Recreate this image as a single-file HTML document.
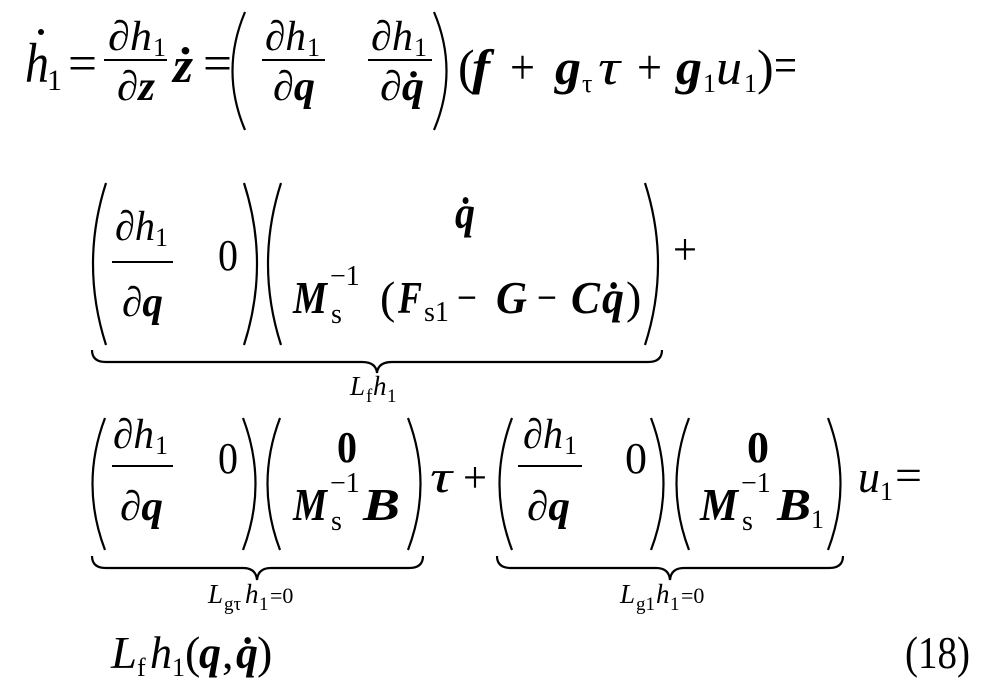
<!DOCTYPE html>
<html><head><meta charset="utf-8"><style>
html,body{margin:0;padding:0;background:#fff;}
svg{display:block}
text{font-family:"Liberation Serif",serif;fill:#000}
.i{font-style:italic}
.b{font-weight:bold;font-style:italic}
.bu{font-weight:bold}
</style></head><body>
<svg width="1001" height="690" viewBox="0 0 1001 690" xmlns="http://www.w3.org/2000/svg">
<g fill="none" stroke="#000" stroke-width="2.2">
<path d="M245 12 Q220 71 245 130"/><path d="M434 12 Q459 71 434 130"/>
<path d="M106 183 Q80 264 106 345"/><path d="M244 183 Q270 264 244 345"/>
<path d="M281 183 Q255 264 281 345"/><path d="M645 183 Q671 264 645 345"/>
<path d="M105 418 Q80 484 105 550"/><path d="M243 418 Q268 484 243 550"/>
<path d="M280 418 Q255 484 280 550"/><path d="M408 418 Q433 484 408 550"/>
<path d="M512 418 Q487 484 512 550"/><path d="M651 418 Q676 484 651 550"/>
<path d="M689 418 Q664 484 689 550"/><path d="M828 418 Q853 484 828 550"/>
<path d="M92 350 Q92 362 106 362 L362 362 Q376 362 377 373 Q378 362 392 362 L648 362 Q662 362 662 350"/>
<path d="M92 556 Q92 568 106 568 L243 568 Q256 568 257 580 Q258 568 271 568 L409 568 Q423 568 423 556"/>
<path d="M497 556 Q497 568 511 568 L656 568 Q669 568 670 580 Q671 568 684 568 L829 568 Q843 568 843 556"/>
</g>
<g stroke="#000" stroke-width="2">
<line x1="104" y1="60" x2="167" y2="60"/>
<line x1="262" y1="60" x2="325" y2="60"/>
<line x1="368" y1="60" x2="432" y2="60"/>
<line x1="112" y1="262" x2="173" y2="262"/>
<line x1="112" y1="466" x2="173" y2="466"/>
<line x1="518" y1="466" x2="582" y2="466"/>
</g>
<circle cx="41" cy="32" r="3" fill="#000"/>
<!-- line 1 -->
<text x="25" y="82" font-size="56" class="i" textLength="24" lengthAdjust="spacingAndGlyphs">h</text>
<text x="47" y="90" font-size="30">1</text>
<text x="68" y="80" font-size="50" textLength="29" lengthAdjust="spacingAndGlyphs">=</text>
<text x="108" y="50" font-size="42" class="i" textLength="44" lengthAdjust="spacingAndGlyphs">∂h</text><text x="153" y="56" font-size="26">1</text>
<text x="117" y="100" font-size="42" textLength="38" lengthAdjust="spacingAndGlyphs"><tspan class="i">∂</tspan><tspan class="b">z</tspan></text>
<text x="173" y="82" font-size="50" class="b" textLength="20" lengthAdjust="spacingAndGlyphs">ż</text>
<text x="203" y="80" font-size="50" textLength="29" lengthAdjust="spacingAndGlyphs">=</text>
<text x="265" y="50" font-size="42" class="i" textLength="41" lengthAdjust="spacingAndGlyphs">∂h</text><text x="307" y="56" font-size="26">1</text>
<text x="273" y="100" font-size="42" textLength="42" lengthAdjust="spacingAndGlyphs"><tspan class="i">∂</tspan><tspan class="b">q</tspan></text>
<text x="371" y="50" font-size="42" class="i" textLength="42" lengthAdjust="spacingAndGlyphs">∂h</text><text x="414" y="56" font-size="26">1</text>
<text x="380" y="100" font-size="42" textLength="44" lengthAdjust="spacingAndGlyphs"><tspan class="i">∂</tspan><tspan class="b">q̇</tspan></text>
<text x="458" y="84" font-size="50">(</text>
<text x="472" y="84" font-size="50" class="b" textLength="18" lengthAdjust="spacingAndGlyphs">f</text>
<text x="510" y="84" font-size="50" textLength="25" lengthAdjust="spacingAndGlyphs">+</text>
<text x="555" y="84" font-size="50" class="b" textLength="26" lengthAdjust="spacingAndGlyphs">g</text>
<text x="582" y="92" font-size="26">τ</text>
<text x="598" y="84" font-size="50" class="i" textLength="22" lengthAdjust="spacingAndGlyphs">τ</text>
<text x="637" y="84" font-size="50" textLength="25" lengthAdjust="spacingAndGlyphs">+</text>
<text x="676" y="84" font-size="50" class="b" textLength="26" lengthAdjust="spacingAndGlyphs">g</text>
<text x="703" y="92" font-size="26">1</text>
<text x="716" y="84" font-size="50" class="i" textLength="26" lengthAdjust="spacingAndGlyphs">u</text>
<text x="744" y="92" font-size="26">1</text>
<text x="757" y="84" font-size="50">)</text>
<text x="774" y="82" font-size="50" textLength="23" lengthAdjust="spacingAndGlyphs">=</text>
<!-- line 2 -->
<text x="115" y="240" font-size="42" class="i" textLength="40" lengthAdjust="spacingAndGlyphs">∂h</text><text x="155" y="246" font-size="26">1</text>
<text x="122" y="316" font-size="42" textLength="41" lengthAdjust="spacingAndGlyphs"><tspan class="i">∂</tspan><tspan class="b">q</tspan></text>
<text x="218" y="270" font-size="44" textLength="20" lengthAdjust="spacingAndGlyphs">0</text>
<text x="455" y="228" font-size="46" class="b" textLength="20" lengthAdjust="spacingAndGlyphs">q̇</text>
<text x="293" y="313" font-size="46" class="b" textLength="34" lengthAdjust="spacingAndGlyphs">M</text>
<text x="330" y="285" font-size="28">−1</text>
<text x="331" y="323" font-size="28">s</text>
<text x="380" y="313" font-size="46">(</text>
<text x="398" y="313" font-size="46" class="b" textLength="24" lengthAdjust="spacingAndGlyphs">F</text>
<text x="424" y="321" font-size="28">s1</text>
<text x="457" y="313" font-size="46" textLength="20" lengthAdjust="spacingAndGlyphs">−</text>
<text x="496" y="313" font-size="46" class="b" textLength="31" lengthAdjust="spacingAndGlyphs">G</text>
<text x="537" y="313" font-size="46" textLength="20" lengthAdjust="spacingAndGlyphs">−</text>
<text x="571" y="313" font-size="46" class="b" textLength="29" lengthAdjust="spacingAndGlyphs">C</text>
<text x="602" y="313" font-size="46" class="b" textLength="22" lengthAdjust="spacingAndGlyphs">q̇</text>
<text x="626" y="313" font-size="46">)</text>
<text x="673" y="264" font-size="44" textLength="24" lengthAdjust="spacingAndGlyphs">+</text>
<text x="350" y="395" font-size="27" class="i">L</text><text x="366" y="402" font-size="19">f</text><text x="373" y="395" font-size="27" class="i">h</text><text x="387" y="402" font-size="19">1</text>
<!-- line 3 -->
<text x="113" y="448" font-size="42" class="i" textLength="41" lengthAdjust="spacingAndGlyphs">∂h</text><text x="155" y="454" font-size="26">1</text>
<text x="120" y="520" font-size="42" textLength="43" lengthAdjust="spacingAndGlyphs"><tspan class="i">∂</tspan><tspan class="b">q</tspan></text>
<text x="218" y="473" font-size="44" textLength="20" lengthAdjust="spacingAndGlyphs">0</text>
<text x="337" y="462" font-size="44" class="bu" textLength="20" lengthAdjust="spacingAndGlyphs">0</text>
<text x="293" y="520" font-size="46" class="b" textLength="34" lengthAdjust="spacingAndGlyphs">M</text>
<text x="330" y="492" font-size="28">−1</text>
<text x="331" y="530" font-size="28">s</text>
<text x="363" y="520" font-size="46" class="b" textLength="37" lengthAdjust="spacingAndGlyphs">B</text>
<text x="430" y="492" font-size="46" class="i" textLength="22" lengthAdjust="spacingAndGlyphs">τ</text>
<text x="463" y="492" font-size="44" textLength="24" lengthAdjust="spacingAndGlyphs">+</text>
<text x="523" y="448" font-size="42" class="i" textLength="40" lengthAdjust="spacingAndGlyphs">∂h</text><text x="564" y="454" font-size="26">1</text>
<text x="527" y="520" font-size="42" textLength="43" lengthAdjust="spacingAndGlyphs"><tspan class="i">∂</tspan><tspan class="b">q</tspan></text>
<text x="625" y="473" font-size="44" textLength="22" lengthAdjust="spacingAndGlyphs">0</text>
<text x="747" y="462" font-size="44" class="bu" textLength="22" lengthAdjust="spacingAndGlyphs">0</text>
<text x="700" y="520" font-size="46" class="b" textLength="38" lengthAdjust="spacingAndGlyphs">M</text>
<text x="741" y="492" font-size="28">−1</text>
<text x="742" y="530" font-size="28">s</text>
<text x="777" y="520" font-size="46" class="b" textLength="34" lengthAdjust="spacingAndGlyphs">B</text>
<text x="811" y="528" font-size="26">1</text>
<text x="858" y="492" font-size="46" class="i" textLength="22" lengthAdjust="spacingAndGlyphs">u</text>
<text x="880" y="500" font-size="26">1</text>
<text x="895" y="490" font-size="44" textLength="27" lengthAdjust="spacingAndGlyphs">=</text>
<text x="208" y="603" font-size="27" class="i">L</text><text x="224" y="610" font-size="19">gτ</text><text x="245" y="603" font-size="27" class="i">h</text><text x="259" y="610" font-size="19">1</text><text x="270" y="603" font-size="22">=0</text>
<text x="620" y="603" font-size="27" class="i">L</text><text x="636" y="610" font-size="19">g1</text><text x="656" y="603" font-size="27" class="i">h</text><text x="670" y="610" font-size="19">1</text><text x="681" y="603" font-size="22">=0</text>
<!-- line 4 -->
<text x="111" y="668" font-size="46" class="i" textLength="26" lengthAdjust="spacingAndGlyphs">L</text>
<text x="137" y="676" font-size="26">f</text>
<text x="150" y="668" font-size="46" class="i" textLength="22" lengthAdjust="spacingAndGlyphs">h</text>
<text x="172" y="676" font-size="26">1</text>
<text x="185" y="668" font-size="46">(</text>
<text x="199" y="668" font-size="46" class="b" textLength="22" lengthAdjust="spacingAndGlyphs">q</text>
<text x="222" y="668" font-size="46">,</text>
<text x="236" y="668" font-size="46" class="b" textLength="22" lengthAdjust="spacingAndGlyphs">q̇</text>
<text x="257" y="668" font-size="46">)</text>
<text x="905" y="668" font-size="46" textLength="65" lengthAdjust="spacingAndGlyphs">(18)</text>
</svg>
</body></html>
